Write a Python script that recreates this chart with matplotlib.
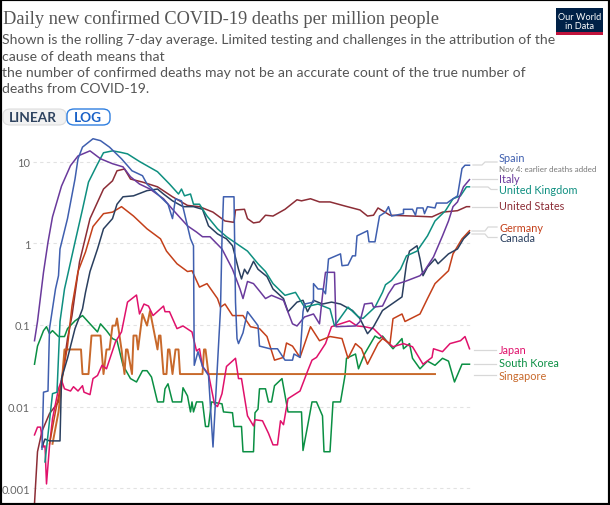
import matplotlib
matplotlib.use("Agg")
import matplotlib.pyplot as plt
from matplotlib.lines import Line2D
from matplotlib.patches import Rectangle, FancyBboxPatch

W, H = 610, 506

spain_days = [6,7,10,11,15,17,18,23,28,30,33,40,45,51,59,66,73,76,83,90,93,95,99,105,107,107.5,110,113,117,120,125,126,127,134,135,136,137,140,143,150,151,158,163,168,173,174,178,180,181,187,187,190,193,195,197,205,206,210,213,215,216,223,224,228,231,235,237,239,247,247,253,255,256,260,261,263,268,269,276,278,283,286,288,291]
spain_vals = [.003,.015,.0155,.09,.275,.4,.85,2.0,6.1,10.8,15,19,18,15,10.8,7.7,6.7,5.3,4,3,2,3.5,3.3,1.13,.93,.032,.047,.031,.024,.0032,.157,1.13,3.7,3.7,.19,.068,.059,.08,.145,.098,.055,.051,.051,.037,.037,.044,.04,.145,.18,.19,.32,.275,.275,.24,.64,.74,.53,.54,.7,.7,1.23,1.42,1.04,1.04,2.15,2.4,2.8,2.15,2.3,2.6,2.6,2.2,2.7,2.7,2.3,2.8,2.7,3.1,3.1,3.3,3.8,8.2,9,9]

italy_days = [1,3,7,10,13,19,25,30,38,45,53,60,65,71,78,87,93,103,109,113,118,126,133,138,140,143,147,151,155,159,167,173,176,181,187,191,193,195,201,202,215,218,221,226,227,233,237,241,248,258,261,267,273,277,280,283,287,291]
italy_vals = [.064,.11,.44,1.03,2.1,5,8.9,11.7,13.5,10.8,9.4,8.6,6.5,5.3,4.6,3.5,2.6,1.63,1.37,1.2,1.2,.85,.48,.275,.21,.34,.32,.26,.21,.23,.2,.103,.097,.125,.136,.103,.23,.44,.44,.095,.097,.11,.18,.185,.165,.17,.24,.31,.34,.4,.46,.68,1.23,1.87,2.8,3.2,4.9,6]

uk_days = [8,13,16,18,21,23,28,33,37,43,47,53,58,63,71,83,91,97,99,101,105,107,111,116,123,129,136,143,150,155,160,168,175,181,190,198,201,210,217,220,228,233,235,239,245,249,256,263,268,275,280,285,289,291]
uk_vals = [.0021,.0144,.015,.11,.275,.4,1.03,2.6,5.6,9.3,12.8,13.5,13,12.4,10,7.5,5.3,4,4.6,3.8,4,3,3,2.15,1.5,1.2,.98,.8,.56,.45,.32,.23,.25,.165,.18,.157,.097,.165,.125,.12,.165,.25,.31,.35,.48,.7,.8,1.23,1.87,2.5,3.5,3.8,4.9,4.9]

us_days = [1,3,6,11,17,23,26,31,38,47,53,56,61,65,73,83,93,103,111,120,128,134,135,141,143,147,151,155,160,168,176,179,185,191,198,208,218,223,227,230,238,253,266,273,283,289,291]
us_vals = [.00065,.0028,.005,.0082,.0114,.068,.13,.59,2,4.6,5.8,7.7,8.1,6.1,5.6,4.9,3.7,2.9,2.8,2.4,1.87,1.8,2.55,2.6,2,1.77,1.82,2.2,2.15,2.6,3.4,3.3,3.5,3.2,3.2,2.85,2.55,2.15,2.2,2.7,2.2,2.15,2.1,2.4,2.5,2.8,2.8]

germany_days = [11,15,19,23,26,30,35,40,47,53,59,67,76,85,89,96,103,106,111,116,123,125,128,133,140,145,151,156,161,167,169,173,178,185,191,198,206,210,215,219,223,230,233,238,240,246,248,258,263,268,277,280,286,291]
germany_vals = [.0035,.0087,.02,.055,.17,.45,.78,1.6,2.3,2.4,2.8,2.15,1.5,1.13,.8,.56,.45,.46,.29,.32,.21,.165,.18,.13,.13,.095,.09,.072,.037,.04,.06,.055,.04,.095,.064,.072,.068,.039,.059,.051,.033,.059,.068,.059,.119,.136,.11,.136,.21,.32,.46,.74,1.13,1.42]

canada_days = [6,8,11,18,19,23,28,33,35,38,43,47,53,56,60,67,76,83,87,93,100,107,113,117,123,129,133,137,139,141,143,147,150,156,160,167,170,176,180,183,187,193,199,205,213,218,223,227,233,246,249,251,256,258,260,263,268,270,277,283,287,291]
canada_vals = [.0032,.004,.0038,.0038,.022,.039,.09,.157,.25,.45,.85,1.5,2,3,3.7,3.8,4.4,4.6,4,3.3,2.8,2.8,2.6,1.63,1.3,1.13,.93,.48,.365,.48,.42,.6,.48,.39,.275,.21,.145,.19,.2,.145,.2,.18,.19,.18,.15,.119,.078,.095,.15,.22,.56,.8,.93,.64,.4,.51,.64,.56,.74,.85,1.13,1.34]

japan_days = [1,3,5,7,8,9,11,13,17,19,21,25,27,30,33,34,38,40,43,46,49,55,59,63,66,69,71,74,77,80,87,88,91,96,100,106,109,111,113,117,121,123,126,129,135,137,139,143,147,148,153,157,160,163,165,167,170,178,183,186,189,195,199,211,216,221,227,236,240,247,253,260,266,267,273,278,285,288,291]
japan_vals = [.0045,.0056,.0056,.0032,.0033,.00113,.0033,.0071,.0165,.021,.0165,.0155,.0175,.0155,.018,.015,.014,.022,.024,.032,.029,.062,.082,.19,.21,.232,.136,.18,.17,.13,.17,.145,.145,.09,.097,.082,.048,.051,.031,.025,.0107,.01,.0144,.031,.039,.022,.022,.0077,.0058,.0069,.0067,.0047,.0034,.0034,.0067,.006,.0125,.0155,.027,.037,.04,.059,.095,.112,.097,.095,.09,.062,.054,.059,.054,.033,.04,.051,.047,.059,.064,.072,.051]

korea_days = [1,3,7,9,11,13,17,21,23,28,33,38,43,45,49,53,56,60,65,69,73,76,79,83,87,88,90,93,99,100,103,105,106,107,109,113,115,117,119,126,127,133,134,139,140,147,148,150,151,155,157,159,161,166,170,179,180,183,186,189,193,194,198,200,205,208,209,215,217,221,228,231,233,240,246,247,251,253,258,263,268,273,277,281,286,291]
korea_vals = [.033,.055,.085,.095,.078,.085,.072,.072,.09,.112,.13,.103,.082,.103,.085,.068,.064,.032,.022,.02,.0275,.0275,.023,.0114,.0114,.0165,.019,.0114,.0114,.017,.0135,.0086,.0114,.0086,.0114,.0114,.0057,.0057,.0114,.0108,.0086,.0084,.0057,.0057,.0028,.0028,.0084,.0093,.0165,.0165,.0114,.0114,.018,.022,.0086,.0086,.0029,.0057,.0114,.0114,.0077,.0028,.0028,.0114,.0114,.024,.039,.044,.029,.044,.073,.068,.073,.051,.068,.051,.059,.039,.029,.036,.032,.039,.036,.02,.033,.033]

singapore_days = [13,17,19,21,32,33,37,39,45,47,49,51,53,55,56,59,61,62,63,66,67,69,70,73,76,78,83,84,85,87,89,90,91,93,95,97,98,113,114,115,117,268]
singapore_vals = [.0035,.0086,.018,.05,.05,.025,.025,.074,.074,.025,.05,.05,.098,.098,.12,.05,.025,.05,.05,.025,.074,.074,.05,.136,.098,.148,.05,.074,.074,.025,.025,.05,.05,.025,.05,.05,.025,.025,.05,.05,.025,.025]

tick_vals = [10, 1, 0.1, 0.01, 0.001]
tick_labels = ["10", "1", "0.1", "0.01", "0.001"]

C_SPAIN, C_ITALY, C_UK, C_US = "#3F5FAF", "#6A3A9C", "#0E8F80", "#8C2D36"
C_DE, C_CA, C_JP, C_KR, C_SG = "#C4401A", "#2A3F5F", "#E0116B", "#0A8F43", "#C8692B"

plt.rcParams["font.family"] = ["Lato", "DejaVu Sans"]
fig = plt.figure(figsize=(W / 100, H / 100), dpi=100, facecolor="white")


def fx(p):
    return p / W


def fy(p):
    return 1 - p / H


ax = fig.add_axes([fx(33), fy(504), (471 - 33) / W, (504 - 130) / H])
ax.set_yscale("log")
ax.set_xlim(0, 292)
ax.set_ylim(0.00066, 25)
for s in ax.spines.values():
    s.set_visible(False)
ax.set_xticks([])
ax.minorticks_off()
ax.set_yticks(tick_vals)
ax.set_yticklabels(tick_labels, color="#666666", fontsize=7.9)
ax.tick_params(axis="y", length=0, pad=2)
ax.grid(True, axis="y", color="#e2e2e2", linestyle=(0, (3, 3)), linewidth=0.8)
ax.set_axisbelow(True)

lw = 1.1
ax.plot(us_days, us_vals, color=C_US, lw=lw)
ax.plot(korea_days, korea_vals, color=C_KR, lw=lw)
ax.plot(singapore_days, singapore_vals, color=C_SG, lw=1.4)
ax.plot(japan_days, japan_vals, color=C_JP, lw=lw)
ax.plot(germany_days, germany_vals, color=C_DE, lw=lw)
ax.plot(canada_days, canada_vals, color=C_CA, lw=lw)
ax.plot(uk_days, uk_vals, color=C_UK, lw=lw)
ax.plot(italy_days, italy_vals, color=C_ITALY, lw=lw)
ax.plot(spain_days, spain_vals, color=C_SPAIN, lw=lw)

# connectors
GREY = "#d8d8d8"
segments = [
    ([473, 482, 485, 497], [166, 166, 163, 163]),
    ([472, 497], [180, 180]),
    ([472, 488, 491, 497], [188, 188, 190.5, 190.5]),
    ([472, 497], [207.5, 207.5]),
    ([472, 485, 488, 497], [232, 232, 228, 228]),
    ([472, 485, 488, 497], [235, 235, 238.5, 238.5]),
    ([474, 496], [350.5, 350.5]),
    ([474, 496], [365, 365]),
    ([474, 496], [375.5, 375.5]),
]
for xs, ys in segments:
    fig.add_artist(Line2D([fx(v) for v in xs], [fy(v) for v in ys], color=GREY, lw=0.9))

labels = [
    ("Spain", 159, C_SPAIN), ("Italy", 179.5, C_ITALY), ("United Kingdom", 190, C_UK),
    ("United States", 207, C_US), ("Germany", 228, C_DE), ("Canada", 239, C_CA),
    ("Japan", 350, C_JP), ("South Korea", 364, C_KR), ("Singapore", 376, C_SG),
]
for txt, y, c in labels:
    fig.text(fx(499), fy(y), txt, color=c, fontsize=7.8, va="center", ha="left")
fig.text(fx(499), fy(169), "Nov 4: earlier deaths added", color="#777777", fontsize=5.75, va="center", ha="left")

# header
fig.text(fx(3), fy(19), "Daily new confirmed COVID-19 deaths per million people",
         family="Liberation Serif", fontsize=13.2, color="#555555", va="center", ha="left")
sub = ["Shown is the rolling 7-day average. Limited testing and challenges in the attribution of the",
       "cause of death means that",
       "the number of confirmed deaths may not be an accurate count of the true number of",
       "deaths from COVID-19."]
for t, y in zip(sub, [40, 57, 73, 89]):
    fig.text(fx(2), fy(y), t, fontsize=10.1, color="#555555", va="center", ha="left")

# logo
fig.add_artist(Rectangle((fx(556), fy(36)), 47 / W, 27 / H, transform=fig.transFigure, facecolor="#002147", edgecolor="none"))
fig.add_artist(Rectangle((fx(556), fy(36)), 47 / W, 3 / H, transform=fig.transFigure, facecolor="#C0143C", edgecolor="none"))
fig.text(fx(579.5), fy(22), "Our World\nin Data", color="white", fontsize=6.6, ha="center", va="center", linespacing=1.05)

# toggle
fig.add_artist(FancyBboxPatch((fx(3), fy(126)), 63 / W, 16 / H, boxstyle="round,pad=0,rounding_size=0.012",
                              transform=fig.transFigure, facecolor="#f2f2f2", edgecolor="#dddddd", lw=0.8, mutation_aspect=1))
fig.add_artist(FancyBboxPatch((fx(67), fy(126)), 43 / W, 16 / H, boxstyle="round,pad=0,rounding_size=0.012",
                              transform=fig.transFigure, facecolor="white", edgecolor="#2F7FE0", lw=1.0, mutation_aspect=1))
fig.text(fx(33), fy(118), "LINEAR", color="#2f4460", fontsize=9.8, weight="bold", ha="center", va="center")
fig.text(fx(88), fy(118), "LOG", color="#1a62c8", fontsize=9.8, weight="bold", ha="center", va="center")

# image border
fig.add_artist(Rectangle((0, 0), 1, 1, transform=fig.transFigure, facecolor="none", edgecolor="black", lw=3))

fig.savefig("out.png", dpi=100)
